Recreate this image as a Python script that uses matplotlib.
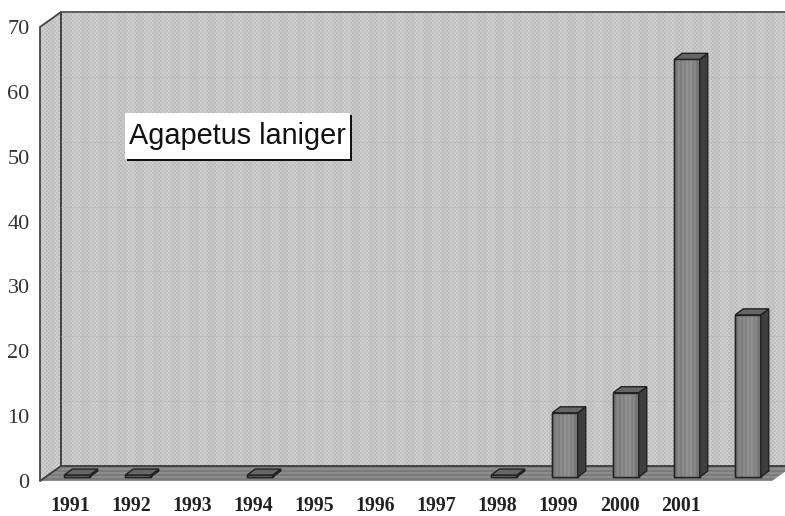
#!/usr/bin/env python3
"""
plot.py - 3D style yearly bar chart for Agapetus laniger
"""

import matplotlib
matplotlib.use("Agg")
import matplotlib.pyplot as plt
from matplotlib.patches import Polygon, Rectangle
import numpy as np

years = ['1991', '1992', '1993', '1994', '1995', '1996', '1997', '1998',
         '1999', '2000', '2001', '']
counts = [0.3, 0.3, 0, 0.3, 0, 0, 0, 0.3, 9.9, 13, 64.4, 25]
y_ticks = [0, 10, 20, 30, 40, 50, 60, 70]
title_text = 'Agapetus laniger'

W, H = 785, 516
# pixel box of the front plane of the chart
LEFT, BOTTOM, RIGHT, TOP = 40, 481, 772, 27
PX_X = (RIGHT - LEFT) / len(years)
PX_Y = (BOTTOM - TOP) / 70.0

# depth of the box and of the bars, in data units
DX, DY = 21 / PX_X, 15 / PX_Y
BAR_DX, BAR_DY = 8 / PX_X, 6 / PX_Y
SHIFT_X, SHIFT_Y = 6.5 / PX_X, 4 / PX_Y
BAR_W = 25.5 / PX_X

fig = plt.figure(figsize=(W / 100, H / 100), dpi=100, facecolor='white')
ax = fig.add_axes([LEFT / W, (H - BOTTOM) / H, (RIGHT - LEFT) / W, (BOTTOM - TOP) / H])
x0, x1 = -0.5, len(years) - 0.5
ax.set_xlim(x0, x1)
ax.set_ylim(0, 70)

full_extent = [x0 - LEFT / PX_X, x0 + (W - LEFT) / PX_X,
               -(H - BOTTOM) / PX_Y, BOTTOM / PX_Y]


def textured(img, patch, zorder):
    """Draw a pixel texture through a polygon"""
    ax.add_patch(patch)
    im = ax.imshow(img, extent=full_extent, cmap='gray', vmin=0, vmax=255,
                   aspect='auto', interpolation='bilinear', zorder=zorder)
    im.set_clip_box(fig.bbox)
    im.set_clip_path(patch)
    return im


# wall and floor textures
rows, cols = np.indices((H, W))
wall_tex = 197 + 8 * (((rows // 2 + cols // 2) % 2) * 2 - 1) \
    + 2.5 * np.where((cols % 18) < 9, 1, -1)
floor_tex = 132 + 9 * np.where((rows % 4) < 2, 1, -1)

back = Polygon([(x0 + DX, DY), (x1 + DX, DY), (x1 + DX, 70 + DY), (x0 + DX, 70 + DY)],
               closed=True, fc='none', ec='#555555', lw=1.3, clip_on=False, zorder=2)
side = Polygon([(x0, 0), (x0 + DX, DY), (x0 + DX, 70 + DY), (x0, 70)],
               closed=True, fc='none', ec='#444444', lw=1.3, clip_on=False, zorder=2)
floor = Polygon([(x0, 0), (x1, 0), (x1 + DX, DY), (x0 + DX, DY)],
                closed=True, fc='none', ec='none', clip_on=False, zorder=2)
textured(wall_tex, back, 1)
textured(wall_tex, side, 1)
textured(floor_tex, floor, 1)
ax.plot([x0 + DX, x1 + DX], [DY, DY], color='#444444', lw=1.3, clip_on=False, zorder=3)
ax.plot([x0, x0 + DX], [0, DY], color='#444444', lw=1.0, clip_on=False, zorder=3)

# faint gridlines on the back wall
for t in y_ticks[1:-1]:
    ax.plot([x0 + DX, x1 + DX], [t + DY, t + DY], color='#b8b8b8', lw=0.7, alpha=0.6,
            clip_on=False, zorder=2)

# bars
positions = np.arange(len(years)) + SHIFT_X
bars = ax.bar(positions, counts, BAR_W, bottom=SHIFT_Y, color='#858585',
              edgecolor='#222222', linewidth=1.0, clip_on=False, zorder=5)
stripes = np.array([[105, 125, 140, 120, 145, 125, 150, 130, 150, 125, 140, 115, 120]])
for bar, v in zip(bars, counts):
    if v <= 0:
        bar.set_visible(False)
        continue
    xl, xr = bar.get_x(), bar.get_x() + bar.get_width()
    yb, yt = SHIFT_Y, SHIFT_Y + v
    im = ax.imshow(stripes, extent=[xl, xr, yb, yt], cmap='gray', vmin=0, vmax=255,
                   aspect='auto', interpolation='bilinear', zorder=5.5)
    im.set_clip_box(fig.bbox)
    ax.add_patch(Rectangle((xl, yb), xr - xl, yt - yb, fc='none', ec='#222222', lw=1.0,
                           clip_on=False, zorder=6))
    ax.add_patch(Polygon([(xr, yb), (xr + BAR_DX, yb + BAR_DY), (xr + BAR_DX, yt + BAR_DY), (xr, yt)],
                         closed=True, fc='#3e3e3e', ec='#222222', lw=1.0, clip_on=False, zorder=6))
    ax.add_patch(Polygon([(xl, yt), (xr, yt), (xr + BAR_DX, yt + BAR_DY), (xl + BAR_DX, yt + BAR_DY)],
                         closed=True, fc='#666666', ec='#222222', lw=1.0, clip_on=False, zorder=6))

ax.set_xlim(x0, x1)
ax.set_ylim(0, 70)
for s in ax.spines.values():
    s.set_visible(False)
ax.patch.set_visible(False)

ax.set_xticks(np.arange(len(years)))
ax.set_xticklabels(years, family='Liberation Serif', fontweight='bold', fontsize=14.3, color='#222222')
ax.set_yticks(y_ticks)
ax.set_yticklabels([str(t) for t in y_ticks], family='Liberation Serif', fontsize=16, color='#333333')
ax.tick_params(axis='x', length=0, pad=10.5)
ax.tick_params(axis='y', length=0, pad=7.5)

# label box with its hard shadow
bx0, by0, bx1, by1 = 125, 113, 350, 159
fig.patches.append(Rectangle((bx0 + 2, H - by1 - 2), bx1 - bx0, by1 - by0, fc='#111111', ec='none',
                             transform=None, zorder=8))
fig.patches.append(Rectangle((bx0, H - by1), bx1 - bx0, by1 - by0, fc='white', ec='none',
                             transform=None, zorder=9))
fig.text((bx0 + bx1) / 2 / W, 1 - (by0 + by1) / 2 / H, title_text, family='Liberation Sans',
         fontsize=20.8, color='#111111', ha='center', va='center', zorder=10)

fig.savefig('out.png', dpi=100, facecolor='white')
